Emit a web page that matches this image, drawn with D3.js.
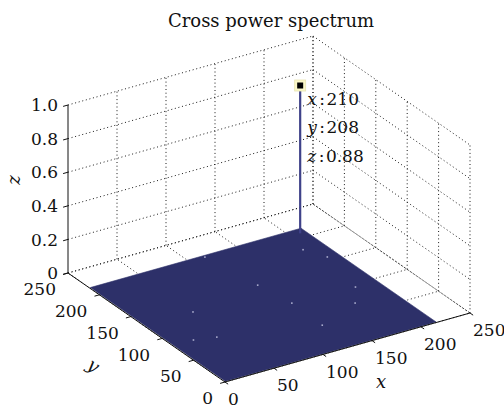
<!DOCTYPE html>
<html><head><meta charset="utf-8">
<script src="https://cdn.jsdelivr.net/npm/d3@7"></script>
<style>html,body{margin:0;padding:0;background:#fff;}svg{display:block;}</style>
</head><body>
<svg id="chart" width="504" height="406"></svg>
<script>
// ---- data ----
const titleText = "Cross power spectrum";
const xTicks = [0, 50, 100, 150, 200, 250];
const yTicks = [0, 50, 100, 150, 200, 250];
const zTicks = [0, 0.2, 0.4, 0.6, 0.8, 1.0];
const zTickLabels = ["0", "0.2", "0.4", "0.6", "0.8", "1.0"];
const gridXRange = [1, 216];   // extent of the sampled spectrum grid (x)
const gridYRange = [1, 216];   // extent of the sampled spectrum grid (y)
const baseLevel = [0];         // flat floor value of the spectrum
const peakX = [210];
const peakY = [208];
const peakZ = [0.88];
// small noise spots visible on the flat spectrum
const noiseX = [50, 21, 41, 125, 131, 194, 177, 130, 195, 205, 116];
const noiseY = [129, 83, 77, 143, 98, 95, 69, 48, 180, 157, 213];

// ---- projection through d3 scales ----
const origin = [225, 382];
const xS = d3.scaleLinear().domain([0, 250]).range([0, 1]);
const yS = d3.scaleLinear().domain([0, 250]).range([0, 1]);
const zS = d3.scaleLinear().domain([0, 1]).range([0, 168]);
const ex = [245, -69], ey = [-157, -109];
function P(x, y, z) {
  const u = xS(x), v = yS(y);
  return [origin[0] + u * ex[0] + v * ey[0], origin[1] + u * ex[1] + v * ey[1] - zS(z)];
}
const line = d3.line();

const svg = d3.select("#chart");
const FONT = "DejaVu Serif";

// ---- grid (dotted) ----
const gridG = svg.append("g").attr("fill", "none").attr("stroke", "#1a1a1a")
  .attr("stroke-width", 1).attr("stroke-dasharray", "1,2.7");
const gridSegs = [];
zTicks.forEach(z => {
  gridSegs.push([P(0, 250, z), P(250, 250, z)]);
  gridSegs.push([P(250, 250, z), P(250, 0, z)]);
});
xTicks.forEach(x => {
  if (x > 0) gridSegs.push([P(x, 250, 0), P(x, 250, 1)]);
  gridSegs.push([P(x, 0, 0), P(x, 250, 0)]);
});
yTicks.forEach(y => {
  gridSegs.push([P(250, y, 0), P(250, y, 1)]);
  gridSegs.push([P(0, y, 0), P(250, y, 0)]);
});
gridG.selectAll("path").data(gridSegs).join("path").attr("d", d => line(d));

// ---- surface (flat part) ----
const b = baseLevel[0];
const surfPoly = [P(gridXRange[0], gridYRange[0], b), P(gridXRange[1], gridYRange[0], b),
                  P(gridXRange[1], gridYRange[1], b), P(gridXRange[0], gridYRange[1], b)];
svg.append("path").attr("d", line(surfPoly) + "Z").attr("fill", "#2d3069").attr("stroke", "#2d3069").attr("stroke-width", 0.6);

// noise spots
svg.append("g").selectAll("rect").data(noiseX.map((x, i) => P(x, noiseY[i], b))).join("rect")
  .attr("x", d => d[0] - 0.8).attr("y", d => d[1] - 0.8).attr("width", 1.6).attr("height", 1.6)
  .attr("fill", "#a9abcc");

// ---- spike ----
peakX.forEach((px, i) => {
  const p0 = P(px, peakY[i], b), p1 = P(px, peakY[i], peakZ[i]);
  svg.append("path").attr("d", line([p0, p1])).attr("stroke", "#3f4289").attr("stroke-width", 2.2).attr("fill", "none");
});

// ---- axes ----
const axG = svg.append("g").attr("stroke", "#111").attr("stroke-width", 1).attr("fill", "none");
axG.append("path").attr("d", line([P(0, 250, 0), P(0, 250, 1)]));
axG.append("path").attr("d", line([P(0, 0, 0), P(0, 250, 0)]));
axG.append("path").attr("d", line([P(0, 0, 0), P(250, 0, 0)]));
zTicks.forEach(z => axG.append("path").attr("d", line([P(0, 250, z), P(-5, 250, z)])));
xTicks.forEach(x => axG.append("path").attr("d", line([P(x, 0, 0), P(x, -5, 0)])));
yTicks.forEach(y => axG.append("path").attr("d", line([P(0, y, 0), P(-5, y, 0)])));

// tick labels
const tl = svg.append("g").attr("font-family", FONT).attr("font-size", 17).attr("fill", "#111");
zTicks.forEach((z, i) => {
  const p = P(0, 250, z);
  tl.append("text").attr("x", p[0] - 10).attr("y", p[1]).attr("dy", "0.36em")
    .attr("text-anchor", "end").text(zTickLabels[i]);
});
yTicks.forEach(y => {
  const p = P(0, y, 0);
  tl.append("text").attr("x", p[0] - 12).attr("y", p[1] + 16).attr("dy", "0.36em")
    .attr("text-anchor", "end").text(y);
});
xTicks.forEach(x => {
  const p = P(x, 0, 0);
  tl.append("text").attr("x", p[0] + 3).attr("y", p[1] + 17).attr("dy", "0.36em")
    .attr("text-anchor", "start").text(x);
});

// axis labels
const al = svg.append("g").attr("font-family", FONT).attr("font-size", 18).attr("font-style", "italic").attr("fill", "#111");
al.append("text").attr("x", 381).attr("y", 383).attr("dy", "0.3em").attr("text-anchor", "middle").text("x");
al.append("text").attr("transform", "translate(93,366) rotate(35)").attr("text-anchor", "middle").attr("dy", "0.3em").text("y");
al.append("text").attr("transform", "translate(15,180) rotate(-90)").attr("text-anchor", "middle").attr("dy", "0.3em").text("z");

// title
svg.append("text").attr("x", 271).attr("y", 27).attr("text-anchor", "middle")
  .attr("font-family", FONT).attr("font-size", 18).attr("fill", "#111").text(titleText);

// ---- data tip ----
peakX.forEach((px, i) => {
  const m = P(px, peakY[i], peakZ[i]);
  svg.append("rect").attr("x", m[0] - 5.5).attr("y", m[1] - 5.5).attr("width", 11).attr("height", 11)
    .attr("fill", "#fbf8c8").attr("stroke", "#e8e4b0").attr("stroke-width", 0.8);
  svg.append("rect").attr("x", m[0] - 3).attr("y", m[1] - 3).attr("width", 6).attr("height", 6).attr("fill", "#000");
  const rows = [["x", String(px)], ["y", String(peakY[i])], ["z", String(peakZ[i])]];
  const tg = svg.append("g").attr("font-family", FONT).attr("font-size", 17).attr("fill", "#111");
  rows.forEach((r, k) => {
    const t = tg.append("text").attr("x", m[0] + 7).attr("y", m[1] + 19 + k * 28.5);
    t.append("tspan").attr("font-style", "italic").text(r[0]);
    t.append("tspan").attr("dx", 2.5).text(":");
    t.append("tspan").attr("dx", 1.5).text(r[1]);
  });
});
</script>
</body></html>
